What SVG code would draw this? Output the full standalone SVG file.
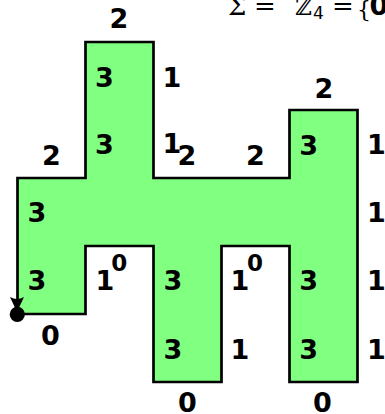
<svg xmlns="http://www.w3.org/2000/svg" width="385" height="414" viewBox="0 0 385 414">
<style>
.l{font-family:"DejaVu Sans",sans-serif;font-weight:bold;font-size:27px;text-anchor:middle;fill:#000}
.s{font-size:23px}
.m{font-family:"DejaVu Serif",serif;font-size:26px;fill:#000}
</style>
<rect width="385" height="414" fill="#fff"/>
<g id="title">
<text class="m" x="228" y="15">Σ</text>
<text class="m" x="254" y="15">=</text>
<text class="m" x="295" y="15" style="font-size:23px">ℤ</text>
<text class="m" x="313" y="19" style="font-family:'DejaVu Sans',sans-serif;font-size:17px">4</text>
<text class="m" x="332" y="15">=</text>
<text class="m" x="357" y="17" style="font-size:22px">{</text>
<text class="l" x="379" y="15">0</text>
</g>
<g id="shape">
<polygon points="17.5,178 85.5,178 85.5,42 153.5,42 153.5,178 289.5,178 289.5,110 357.5,110 357.5,382 289.5,382 289.5,246 221.5,246 221.5,382 153.5,382 153.5,246 85.5,246 85.5,314 17.5,314" fill="#80ff80" stroke="#000" stroke-width="2.7" stroke-linejoin="miter"/>
</g>
<g id="connectors">
<path d="M10,297 Q17,301 24,297 L17,312 Z" fill="#000"/>
<circle cx="17.3" cy="314.3" r="7.6" fill="#000"/>
</g>
<g id="labels">
<text class="l" x="119" y="28">2</text>
<text class="l" x="104.5" y="87">3</text>
<text class="l" x="172" y="87">1</text>
<text class="l" x="104.5" y="154">3</text>
<text class="l" x="172" y="153">1</text>
<text class="l" x="187" y="165">2</text>
<text class="l" x="255.5" y="165">2</text>
<text class="l" x="51.5" y="165">2</text>
<text class="l" x="324" y="98">2</text>
<text class="l" x="308.7" y="155">3</text>
<text class="l" x="376.5" y="154">1</text>
<text class="l" x="37" y="221.5">3</text>
<text class="l" x="376.5" y="221.5">1</text>
<text class="l" x="37" y="290">3</text>
<text class="l s" x="119.2" y="271">0</text>
<text class="l" x="105" y="290">1</text>
<text class="l" x="173" y="290">3</text>
<text class="l s" x="255" y="271">0</text>
<text class="l" x="240" y="290">1</text>
<text class="l" x="308.7" y="290">3</text>
<text class="l" x="376.5" y="290">1</text>
<text class="l" x="50.5" y="345">0</text>
<text class="l" x="173" y="359">3</text>
<text class="l" x="240" y="359">1</text>
<text class="l" x="308.7" y="359">3</text>
<text class="l" x="376.5" y="359">1</text>
<text class="l" x="187.5" y="412">0</text>
<text class="l" x="322.5" y="412">0</text>
</g>
</svg>
